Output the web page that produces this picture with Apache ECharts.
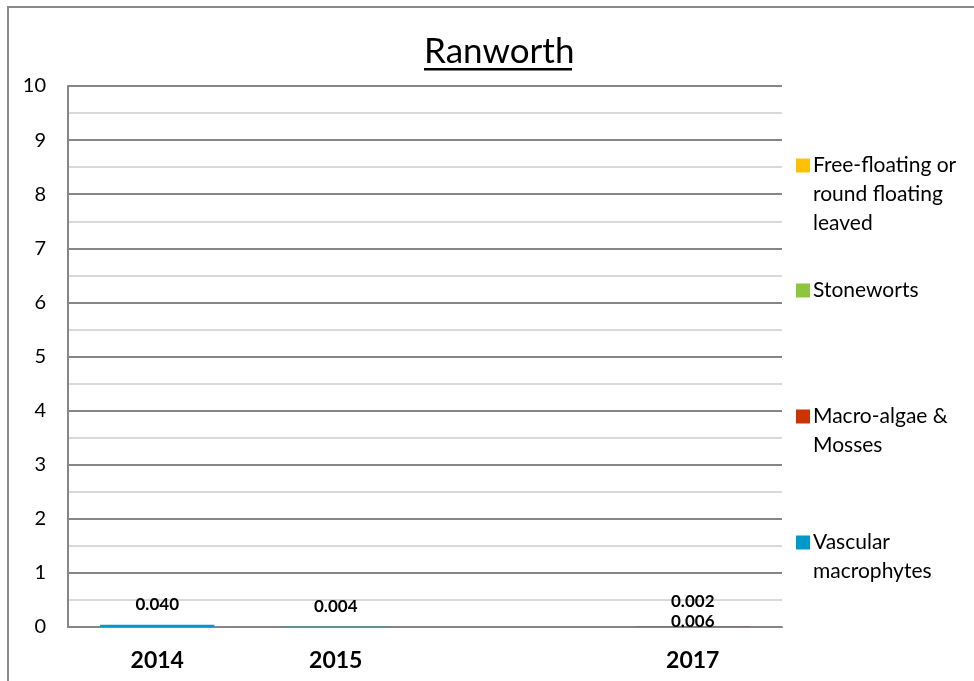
<!DOCTYPE html>
<html>
<head>
<meta charset="utf-8">
<script src="https://cdn.jsdelivr.net/npm/echarts@6/dist/echarts.min.js"></script>
<style>
  html, body { margin: 0; padding: 0; background: #fff; }
  #chart { width: 974px; height: 681px; }
</style>
</head>
<body>
<div id="chart"></div>
<script>
// Survey years (2016 had no survey, so its slot is left unlabelled)
const years = ['2014', '2015', '', '2017'];

// Plant groups, bottom of the stack first
const groupNames = ['Vascular macrophytes', 'Macro-algae & Mosses', 'Stoneworts', 'Free-floating or round floating leaved'];
const legendText = ['Vascular\nmacrophytes', 'Macro-algae &\nMosses', 'Stoneworts', 'Free-floating or\nround floating\nleaved'];

// Values per group and year
const vascular   = [0.040, 0.004, null, 0.006];
const macroAlgae = [null, null, null, 0.002];
const stoneworts = [null, null, null, null];
const freeFloat  = [null, null, null, null];

const yTicks = [0, 1, 2, 3, 4, 5, 6, 7, 8, 9, 10];

const allValues = [vascular, macroAlgae, stoneworts, freeFloat];
const colors = ['#0099CC', '#CC3300', '#8CC63E', '#FFC000'];

// label nudges so overlapping value labels stay readable
const labelShift = [
  [-7, -7, 0, 8],
  [0, 0, 0, -12],
  [0, 0, 0, 0],
  [0, 0, 0, 0]
];

const font = 'Lato, "Open Sans", sans-serif';

const series = allValues.map((vals, si) => ({
  name: groupNames[si],
  type: 'bar',
  stack: 'total',
  barWidth: '64%',
  itemStyle: { color: colors[si] },
  data: vals.map((v, i) => v === null ? null : {
    value: v,
    label: { offset: [0, labelShift[si][i]] }
  }),
  label: {
    show: true,
    position: 'top',
    color: '#000',
    fontFamily: font,
    fontWeight: 'bold',
    fontSize: 17,
    formatter: p => (p.value == null ? '' : Number(p.value).toFixed(3))
  }
}));

// One legend block per group. The swatch is centred on the text block, so
// blank lines are padded above multi-line names to keep it level with line one.
const lineH = 29;
const firstLineTop = [523, 397, 271, 146];
const legends = groupNames.map((n, i) => {
  const lines = legendText[i].split('\n');
  const pad = lines.length - 1;
  const text = '\n'.repeat(pad) + legendText[i];
  return {
    data: [n],
    orient: 'vertical',
    left: 791,
    top: firstLineTop[i] - pad * lineH,
    itemWidth: 14,
    itemHeight: 14,
    icon: 'rect',
    selectedMode: false,
    formatter: () => text,
    textStyle: {
      fontFamily: font, fontSize: 21, color: '#000', lineHeight: lineH,
      padding: [0, 0, 0, -2]
    }
  };
});

const chart = echarts.init(document.getElementById('chart'));
chart.setOption({
  backgroundColor: '#fff',
  animation: false,
  title: {
    text: 'Ranworth',
    left: 419,
    top: 29,
    textStyle: { fontFamily: font, fontSize: 35, fontWeight: 'normal', color: '#000' }
  },
  graphic: [
    { type: 'rect', shape: { x: 8, y: 7, width: 1000, height: 700 }, style: { fill: 'none', stroke: '#8a8a8a', lineWidth: 2 }, silent: true },
    { type: 'rect', shape: { x: 424, y: 68, width: 148, height: 2.5 }, style: { fill: '#000' }, silent: true }
  ],
  legend: legends,
  grid: { left: 68, top: 86, right: 192, bottom: 54 },
  xAxis: {
    type: 'category',
    data: years,
    axisLine: { show: true, lineStyle: { color: '#868686', width: 2 } },
    axisTick: { show: false },
    axisLabel: { fontFamily: font, fontSize: 23, fontWeight: 'bold', color: '#000', margin: 22 }
  },
  yAxis: {
    type: 'value',
    min: yTicks[0],
    max: yTicks[yTicks.length - 1],
    interval: 1,
    axisLine: { show: true, lineStyle: { color: '#868686', width: 2 } },
    axisTick: { show: false },
    axisLabel: { fontFamily: font, fontSize: 20, color: '#000', margin: 22 },
    splitLine: { show: true, lineStyle: { color: '#868686', width: 2 } },
    minorTick: { show: false, splitNumber: 2 },
    minorSplitLine: { show: true, lineStyle: { color: '#d9d9d9', width: 2 } }
  },
  series: series
});
</script>
</body>
</html>
